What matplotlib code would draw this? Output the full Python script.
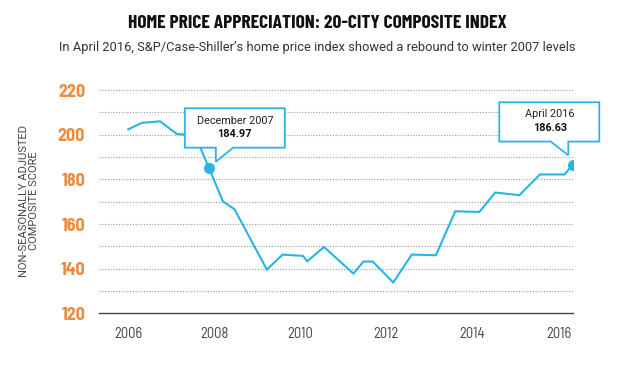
import matplotlib
matplotlib.use("Agg")
import matplotlib.pyplot as plt
from matplotlib.patches import Polygon
from matplotlib.transforms import ScaledTranslation

# ---- data ----
years = [2006.0, 2006.31, 2006.74, 2007.13, 2007.32, 2007.55, 2007.88,
         2008.2, 2008.47, 2009.22, 2009.59, 2010.06, 2010.16, 2010.55,
         2011.23, 2011.47, 2011.68, 2012.16, 2012.59, 2013.15, 2013.6,
         2014.16, 2014.53, 2015.09, 2015.57, 2016.14, 2016.33]
index = [202.4, 205.3, 206.0, 200.3, 200.1, 199.8, 184.97,
         170.1, 166.6, 139.6, 146.3, 145.7, 143.3, 149.7,
         137.8, 143.2, 143.2, 133.8, 146.3, 146.0, 165.7,
         165.4, 174.1, 172.9, 182.2, 182.2, 186.63]
x_ticks = [2006, 2008, 2010, 2012, 2014, 2016]
y_ticks = [120, 140, 160, 180, 200, 220]
y_grid = [130, 140, 150, 160, 170, 180, 190, 200, 210, 220]
callout_labels = ["December 2007", "April 2016"]
callout_values = ["184.97", "186.63"]
callout_idx = [6, 26]

title = "HOME PRICE APPRECIATION: 20-CITY COMPOSITE INDEX"
subtitle = "In April 2016, S&P/Case-Shiller\u2019s home price index showed a rebound to winter 2007 levels"
ylabel = "NON-SEASONALLY ADJUSTED\nCOMPOSITE SCORE"

BLUE = "#29B4E6"
ORANGE = "#EE8A3C"
DARK = "#333333"

fig = plt.figure(figsize=(6.2, 3.66), dpi=100)
ax = fig.add_axes([0.1597, 0.144, 0.764, 0.616])
ax.set_xlim(2005.32, 2016.33)
ax.set_ylim(120, 221)

for g in y_grid:
    ax.axhline(g, color="#9a9a9a", lw=0.8, ls=(0, (1, 1.5)), zorder=1)

ax.plot(years, index, color=BLUE, lw=1.5, zorder=3, solid_joinstyle="miter")
for i in callout_idx:
    ax.plot(years[i], index[i], "o", color=BLUE, ms=8, zorder=6, mec="none")

for s in ["top", "right", "left"]:
    ax.spines[s].set_visible(False)
ax.spines["bottom"].set_color("#444444")
ax.spines["bottom"].set_linewidth(1.0)

ax.set_xticks(x_ticks)
ax.set_xticklabels([str(t) for t in x_ticks], family="Barlow Semi Condensed",
                   fontsize=10.5, color="#444444")
ax.set_yticks(y_ticks)
ax.set_yticklabels([str(t) for t in y_ticks], family="Barlow Semi Condensed",
                   fontsize=13, fontweight="bold", color=ORANGE)
ax.tick_params(axis="x", length=0, pad=10)
ax.tick_params(axis="y", length=0, pad=10)

fig.text(29 / 620, 1 - 201 / 366, ylabel, rotation=90, ha="center", va="center",
         fontsize=8, color="#444444", family="Roboto", linespacing=1.0)

fig.text(317 / 620, 1 - 23.5 / 366, title, ha="center", va="center",
         family="Barlow Condensed", fontweight="bold", fontsize=14, color="#111111")
fig.text(317.5 / 620, 1 - 48 / 366, subtitle, ha="center", va="center",
         family="Roboto", fontsize=9.3, color=DARK)

# callout shapes, in inches relative to the highlighted point
shapes = [
    [(-0.243, 0.206), (0.067, 0.206), (0.067, 0.066), (0.24, 0.206),
     (0.757, 0.206), (0.757, 0.60), (-0.243, 0.60)],
    [(-0.734, 0.23), (-0.22, 0.23), (-0.044, 0.093), (-0.044, 0.23),
     (0.266, 0.23), (0.266, 0.623), (-0.734, 0.623)],
]
text_offsets = [(0.257, 0.476, 0.346), (-0.227, 0.51, 0.366)]
for k, i in enumerate(callout_idx):
    tr = fig.dpi_scale_trans + ScaledTranslation(years[i], index[i], ax.transData)
    poly = Polygon(shapes[k], closed=True, facecolor="white", edgecolor=BLUE,
                   lw=1.3, transform=tr, zorder=5, clip_on=False, joinstyle="miter")
    ax.add_patch(poly)
    tx, ty1, ty2 = text_offsets[k]
    ax.text(tx, ty1, callout_labels[k], transform=tr, ha="center", va="center",
            fontsize=7.8, family="Roboto", color="#222222", zorder=7)
    ax.text(tx, ty2, callout_values[k], transform=tr, ha="center", va="center",
            fontsize=7.8, family="Roboto", fontweight="bold", color="#111111", zorder=7)

fig.savefig("out.png", dpi=100, facecolor="white")
